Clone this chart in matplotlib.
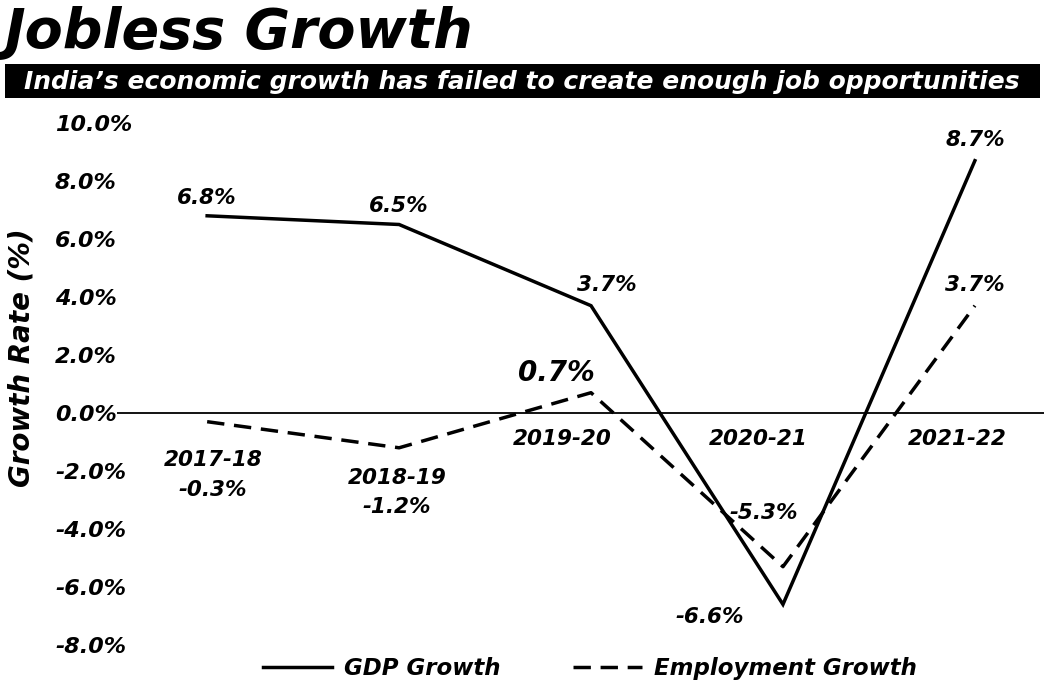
import matplotlib.pyplot as plt
from matplotlib.patches import Rectangle

years = ["2017-18", "2018-19", "2019-20", "2020-21", "2021-22"]
gdp_growth = [6.8, 6.5, 3.7, -6.6, 8.7]
emp_growth = [-0.3, -1.2, 0.7, -5.3, 3.7]
yticks = [10, 8, 6, 4, 2, 0, -2, -4, -6, -8]

FONT = "DejaVu Sans"
txt = dict(family=FONT, weight="bold", style="italic", color="black")


def main():
    fig = plt.figure(figsize=(10.44, 6.91), dpi=100)
    ax = fig.add_axes([0.112, 0.0414, 0.888, 0.789])

    x = list(range(len(years)))
    ax.plot(x, gdp_growth, color="black", lw=2.5, solid_joinstyle="miter",
            label="GDP Growth")
    ax.plot(x, emp_growth, color="black", lw=2.5, linestyle=(0, (5, 2.8)),
            label="Employment Growth")
    ax.axhline(0, color="black", lw=1.3)

    ax.set_xlim(-0.47, 4.36)
    ax.set_ylim(-8.6, 10.2)
    ax.set_xticks([])
    ax.set_yticks(yticks)
    ax.set_yticklabels([f"{v:.1f}%" for v in yticks], ha="left", fontsize=16, **txt)
    ax.tick_params(axis="y", length=0, pad=44.6)
    for s in ax.spines.values():
        s.set_visible(False)

    fig.text(22 / 1044, 0.483, "Growth Rate (%)", rotation=90, ha="center", va="center",
             fontsize=20, **txt)

    fs = 15.5
    # value labels for GDP
    gdp_off = [(0, 0.6), (0, 0.65), (0.08, 0.7), (-0.38, -0.45), (0, 0.7)]
    for i, v in enumerate(gdp_growth):
        dx, dy = gdp_off[i]
        ax.text(i + dx, v + dy, f"{v}%", ha="center", va="center", fontsize=fs, **txt)

    # employment labels + year labels
    ax.text(0.03, emp_growth[0] - 1.32, years[0], ha="center", va="center", fontsize=fs, **txt)
    ax.text(0.03, emp_growth[0] - 2.36, f"{emp_growth[0]}%", ha="center", va="center", fontsize=fs, **txt)
    ax.text(0.99, emp_growth[1] - 1.04, years[1], ha="center", va="center", fontsize=fs, **txt)
    ax.text(0.99, emp_growth[1] - 2.04, f"{emp_growth[1]}%", ha="center", va="center", fontsize=fs, **txt)
    ax.text(1.82, emp_growth[2] + 0.68, f"{emp_growth[2]}%", ha="center", va="center", fontsize=20, **txt)
    ax.text(2.9, emp_growth[3] + 1.85, f"{emp_growth[3]}%", ha="center", va="center", fontsize=fs, **txt)
    ax.text(4.0, emp_growth[4] + 0.7, f"{emp_growth[4]}%", ha="center", va="center", fontsize=fs, **txt)
    year_dx = {2: -0.15, 3: -0.13, 4: -0.09}
    for i in range(2, 5):
        ax.text(i + year_dx[i], -0.88, years[i], ha="center", va="center", fontsize=fs, **txt)

    # title and subtitle bar
    fig.text(0.004, 0.93, "Jobless Growth", ha="left", va="baseline", fontsize=40, **txt)
    fig.patches.append(Rectangle((0.005, 0.858), 0.991, 0.049, transform=fig.transFigure,
                                 facecolor="black", edgecolor="none"))
    fig.text(0.5, 0.881, "India\u2019s economic growth has failed to create enough job opportunities",
             ha="center", va="center", fontsize=18, family=FONT, weight="bold",
             style="italic", color="white")

    fig.legend(loc="center", bbox_to_anchor=(0.565, 0.033), ncol=2, frameon=False,
               handlelength=3.0, columnspacing=3.2, handletextpad=0.5,
               prop=dict(family=FONT, weight="bold", style="italic", size=16.5))

    fig.savefig("out.png", dpi=100)


if __name__ == "__main__":
    main()
